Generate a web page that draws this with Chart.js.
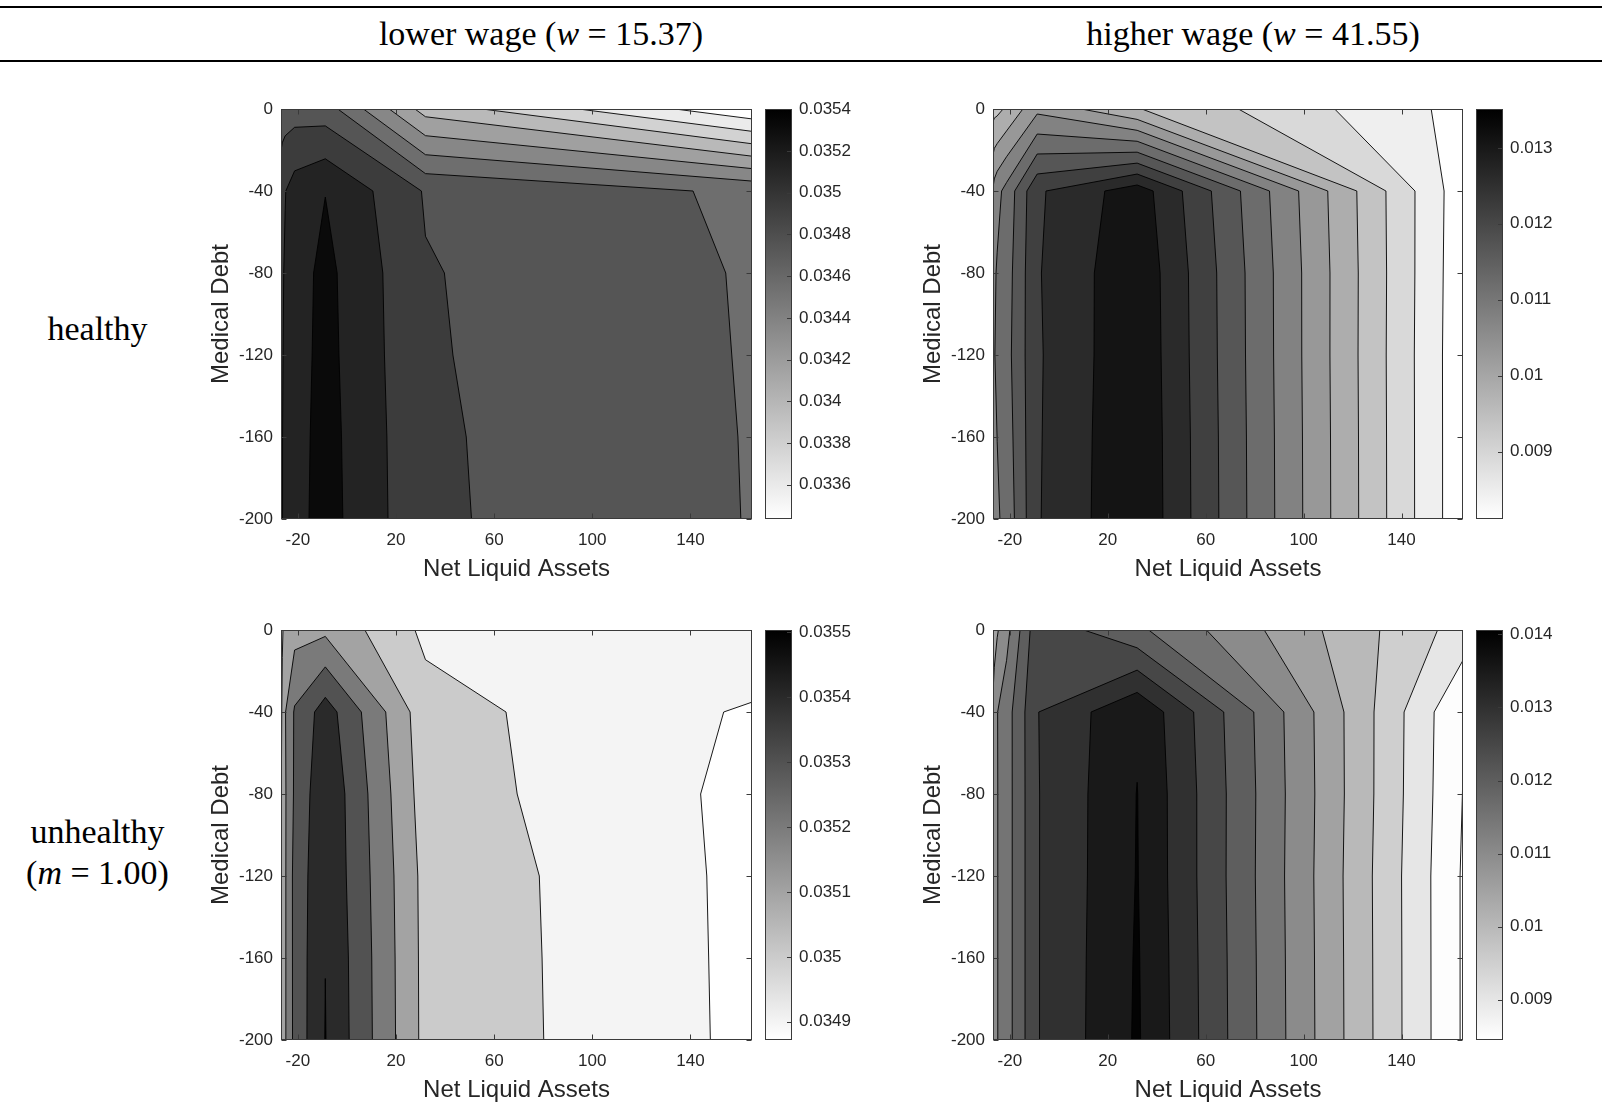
<!DOCTYPE html>
<html><head><meta charset="utf-8">
<script src="https://cdn.jsdelivr.net/npm/chart.js@4.4.1/dist/chart.umd.min.js"></script>
<style>
html,body{margin:0;padding:0;background:#fff;width:1602px;height:1106px;overflow:hidden;position:relative;}
.rule{position:absolute;left:0;width:1602px;background:#000;}
.lab{position:absolute;font-family:'Liberation Serif','Times New Roman',serif;font-size:34px;line-height:34px;color:#000;white-space:nowrap;text-align:center;}
canvas{position:absolute;}
</style></head><body>
<div class="rule" style="top:6px;height:2px"></div>
<div class="rule" style="top:60px;height:1.5px"></div>
<div class="lab" style="left:291px;width:500px;top:16.5px">lower wage (<i>w</i> = 15.37)</div>
<div class="lab" style="left:1003px;width:500px;top:16.5px">higher wage (<i>w</i> = 41.55)</div>
<div class="lab" style="left:0px;width:195px;top:311.5px">healthy</div>
<div class="lab" style="left:0px;width:195px;top:814.5px">unhealthy</div>
<div class="lab" style="left:0px;width:195px;top:855.5px">(<i>m</i> = 1.00)</div>
<canvas id="p1" width="700" height="495" style="left:180px;top:90px"></canvas>
<canvas id="p2" width="700" height="495" style="left:892px;top:90px"></canvas>
<canvas id="p3" width="700" height="495" style="left:180px;top:611px"></canvas>
<canvas id="p4" width="700" height="495" style="left:892px;top:611px"></canvas>
<script>
// ---- grid (net liquid assets, medical debt) ----
const assetGrid = [-26.88, -26.36, -25.18, -21.34, -8.82, 32.0, 165.1];
const debtGrid = [0, -40, -80, -120, -160, -200];
const xTickValues = [-20, 20, 60, 100, 140];
const yTickValues = [0, -40, -80, -120, -160, -200];

// ---- healthy, lower wage ----
const zHealthyLow = [
  [0.034821, 0.034833, 0.034850, 0.034860, 0.034842, 0.034089, 0.033435],
  [0.035057, 0.035095, 0.035128, 0.035223, 0.035323, 0.034925, 0.034709],
  [0.035076, 0.035115, 0.035153, 0.035246, 0.035377, 0.034954, 0.034730],
  [0.035086, 0.035124, 0.035163, 0.035250, 0.035385, 0.034960, 0.034734],
  [0.035095, 0.035130, 0.035172, 0.035256, 0.035396, 0.034970, 0.034738],
  [0.035095, 0.035130, 0.035172, 0.035261, 0.035402, 0.034974, 0.034740]
];
const levelsHealthyLow = [0.033589, 0.033782, 0.033975, 0.034168, 0.034361, 0.034555, 0.034748, 0.034941, 0.035134, 0.035327];
const cbTicksHealthyLow = [0.0336, 0.0338, 0.034, 0.0342, 0.0344, 0.0346, 0.0348, 0.035, 0.0352, 0.0354];
const cbLabelsHealthyLow = ['0.0336', '0.0338', '0.034', '0.0342', '0.0344', '0.0346', '0.0348', '0.035', '0.0352', '0.0354'];

// ---- healthy, higher wage ----
const zHealthyHigh = [
  [0.009654, 0.009701, 0.009724, 0.009909, 0.010651, 0.009863, 0.008296],
  [0.010813, 0.010952, 0.011096, 0.011384, 0.012552, 0.013340, 0.008148],
  [0.010999, 0.011161, 0.011277, 0.011486, 0.012584, 0.013461, 0.008125],
  [0.010999, 0.011207, 0.011323, 0.011532, 0.012566, 0.013479, 0.008111],
  [0.010952, 0.011115, 0.011235, 0.011462, 0.012575, 0.013502, 0.008111],
  [0.010906, 0.011045, 0.011166, 0.011388, 0.012584, 0.013512, 0.008111]
];
const levelsHealthyHigh = [0.008449, 0.008913, 0.009376, 0.009840, 0.010303, 0.010767, 0.011231, 0.011694, 0.012158, 0.012621, 0.013085];
const cbTicksHealthyHigh = [0.009, 0.010, 0.011, 0.012, 0.013];
const cbLabelsHealthyHigh = ['0.009', '0.01', '0.011', '0.012', '0.013'];

// ---- unhealthy, lower wage ----
const zUnhealthyLow = [
  [0.035060, 0.035090, 0.035130, 0.035164, 0.035179, 0.034979, 0.034995],
  [0.035070, 0.035120, 0.035195, 0.035311, 0.035448, 0.035037, 0.034887],
  [0.035090, 0.035130, 0.035190, 0.035315, 0.035485, 0.035050, 0.034872],
  [0.035090, 0.035130, 0.035190, 0.035333, 0.035488, 0.035068, 0.034873],
  [0.035090, 0.035130, 0.035190, 0.035332, 0.035499, 0.035070, 0.034874],
  [0.035090, 0.035130, 0.035190, 0.035331, 0.035503, 0.035071, 0.034875]
];
const levelsUnhealthyLow = [0.0349, 0.0350, 0.0351, 0.0352, 0.0353, 0.0354, 0.0355];
const cbTicksUnhealthyLow = [0.0349, 0.0350, 0.0351, 0.0352, 0.0353, 0.0354, 0.0355];
const cbLabelsUnhealthyLow = ['0.0349', '0.035', '0.0351', '0.0352', '0.0353', '0.0354', '0.0355'];

// ---- unhealthy, higher wage ----
const zUnhealthyHigh = [
  [0.010510, 0.010750, 0.010950, 0.011335, 0.012850, 0.012100, 0.009280],
  [0.011150, 0.011300, 0.011485, 0.011780, 0.012985, 0.013940, 0.008520],
  [0.011200, 0.011350, 0.011480, 0.011780, 0.012975, 0.014010, 0.008490],
  [0.011200, 0.011350, 0.011480, 0.011780, 0.012975, 0.014020, 0.008450],
  [0.011200, 0.011350, 0.011480, 0.011780, 0.012975, 0.014045, 0.008450],
  [0.011200, 0.011350, 0.011480, 0.011780, 0.012975, 0.014060, 0.008450]
];
const levelsUnhealthyHigh = [0.0085, 0.0090, 0.0095, 0.0100, 0.0105, 0.0110, 0.0115, 0.0120, 0.0125, 0.0130, 0.0135, 0.0140];
const cbTicksUnhealthyHigh = [0.009, 0.010, 0.011, 0.012, 0.013, 0.014];
const cbLabelsUnhealthyHigh = ['0.009', '0.01', '0.011', '0.012', '0.013', '0.014'];

const panels = {
  p1: {z: zHealthyLow, levels: levelsHealthyLow, cbTicks: cbTicksHealthyLow, cbLabels: cbLabelsHealthyLow},
  p2: {z: zHealthyHigh, levels: levelsHealthyHigh, cbTicks: cbTicksHealthyHigh, cbLabels: cbLabelsHealthyHigh},
  p3: {z: zUnhealthyLow, levels: levelsUnhealthyLow, cbTicks: cbTicksUnhealthyLow, cbLabels: cbLabelsUnhealthyLow},
  p4: {z: zUnhealthyHigh, levels: levelsUnhealthyHigh, cbTicks: cbTicksUnhealthyHigh, cbLabels: cbLabelsUnhealthyHigh}
};

const AXIS_COLOR = '#3a3a3a';
const TEXT_COLOR = '#262626';
const SANS = "'Liberation Sans', Arial, Helvetica, sans-serif";

function zRange(z) {
  let lo = Infinity, hi = -Infinity;
  z.forEach(r => r.forEach(v => { if (v < lo) lo = v; if (v > hi) hi = v; }));
  return [lo, hi];
}
function grayOf(v, lo, hi) {
  let g = 1 - (v - lo) / (hi - lo);
  g = Math.max(0, Math.min(1, g));
  const c = Math.round(g * 255);
  return 'rgb(' + c + ',' + c + ',' + c + ')';
}
function lerpPt(a, b, L) {
  const t = (L - a.z) / (b.z - a.z);
  return {x: a.x + t * (b.x - a.x), y: a.y + t * (b.y - a.y), z: L};
}
function clipAbove(poly, L) {
  const out = [];
  const n = poly.length;
  for (let i = 0; i < n; i++) {
    const a = poly[(i + n - 1) % n], b = poly[i];
    const ain = a.z >= L, bin = b.z >= L;
    if (bin) { if (!ain) out.push(lerpPt(a, b, L)); out.push(b); }
    else if (ain) out.push(lerpPt(a, b, L));
  }
  return out;
}
function cellsOf(chart) {
  const ds = chart.data.datasets[0].data;
  const nx = assetGrid.length, ny = debtGrid.length;
  const node = (i, j) => ds[j * nx + i];
  const cells = [];
  for (let j = 0; j < ny - 1; j++)
    for (let i = 0; i < nx - 1; i++)
      cells.push([node(i, j), node(i + 1, j), node(i + 1, j + 1), node(i, j + 1)]);
  return cells;
}
function noPad(s) { s.paddingTop = 0; s.paddingBottom = 0; s.paddingLeft = 0; s.paddingRight = 0; }

const contourPlugin = {
  id: 'contourfill',
  beforeDatasetsDraw(chart) {
    const P = panels[chart.canvas.id];
    const [lo, hi] = zRange(P.z);
    const xs = chart.scales.x, ys = chart.scales.y;
    const ctx = chart.ctx, a = chart.chartArea;
    const px = p => xs.getPixelForValue(p.x), py = p => ys.getPixelForValue(p.y);
    const cells = cellsOf(chart);
    ctx.save();
    ctx.beginPath(); ctx.rect(a.left, a.top, a.right - a.left, a.bottom - a.top); ctx.clip();
    ctx.fillStyle = grayOf(lo, lo, hi);
    ctx.fillRect(a.left, a.top, a.right - a.left, a.bottom - a.top);
    P.levels.forEach(L => {
      ctx.beginPath();
      cells.forEach(q => {
        const poly = clipAbove(q, L);
        if (poly.length < 3) return;
        ctx.moveTo(px(poly[0]), py(poly[0]));
        for (let k = 1; k < poly.length; k++) ctx.lineTo(px(poly[k]), py(poly[k]));
        ctx.closePath();
      });
      ctx.fillStyle = grayOf(L, lo, hi);
      ctx.fill('nonzero');
    });
    ctx.strokeStyle = 'rgba(0,0,0,0.9)';
    ctx.lineWidth = 1;
    ctx.lineJoin = 'round';
    const edges = [[0, 1], [1, 2], [2, 3], [3, 0]];
    P.levels.forEach(L => {
      ctx.beginPath();
      cells.forEach(q => {
        const pts = [];
        edges.forEach(([i, k]) => {
          const A = q[i], B = q[k];
          if ((A.z - L) * (B.z - L) < 0) pts.push(lerpPt(A, B, L));
        });
        const seg = (p, r) => { ctx.moveTo(px(p), py(p)); ctx.lineTo(px(r), py(r)); };
        if (pts.length === 2) seg(pts[0], pts[1]);
        else if (pts.length === 4) {
          const c = (q[0].z + q[1].z + q[2].z + q[3].z) / 4;
          if ((c >= L) === (q[0].z >= L)) { seg(pts[0], pts[1]); seg(pts[2], pts[3]); }
          else { seg(pts[3], pts[0]); seg(pts[1], pts[2]); }
        }
      });
      ctx.stroke();
    });
    ctx.restore();
  },
  afterDatasetsDraw(chart) {
    const P = panels[chart.canvas.id];
    const xs = chart.scales.x, ys = chart.scales.y, cb = chart.scales.cb;
    const ctx = chart.ctx, a = chart.chartArea;
    const L = Math.round(a.left) + 0.5, R = Math.round(a.right) - 0.5;
    const T = Math.round(a.top) + 0.5, B = Math.round(a.bottom) - 0.5;
    ctx.save();
    ctx.strokeStyle = AXIS_COLOR; ctx.lineWidth = 1;
    ctx.strokeRect(L, T, R - L, B - T);
    ctx.beginPath();
    xTickValues.forEach(v => {
      const x = Math.round(xs.getPixelForValue(v)) + 0.5;
      ctx.moveTo(x, B); ctx.lineTo(x, B - 5);
      ctx.moveTo(x, T); ctx.lineTo(x, T + 5);
    });
    yTickValues.forEach(v => {
      const y = Math.round(ys.getPixelForValue(v)) + 0.5;
      ctx.moveTo(L, y); ctx.lineTo(L + 5, y);
      ctx.moveTo(R, y); ctx.lineTo(R - 5, y);
    });
    ctx.stroke();
    const cx0 = Math.round(a.right) + 13, cw = 27;
    const top = cb.getPixelForValue(cb.max), bot = cb.getPixelForValue(cb.min);
    const g = ctx.createLinearGradient(0, top, 0, bot);
    g.addColorStop(0, '#000'); g.addColorStop(1, '#fff');
    ctx.fillStyle = g;
    ctx.fillRect(cx0, top, cw, bot - top);
    ctx.strokeRect(cx0 + 0.5, Math.round(top) + 0.5, cw - 1, Math.round(bot - top) - 1);
    ctx.beginPath();
    P.cbTicks.forEach(v => {
      const y = Math.round(cb.getPixelForValue(v)) + 0.5;
      ctx.moveTo(cx0 + cw - 1, y); ctx.lineTo(cx0 + cw - 5, y);
    });
    ctx.stroke();
    ctx.restore();
  }
};

function makeChart(id) {
  const P = panels[id];
  const [lo, hi] = zRange(P.z);
  const points = [];
  debtGrid.forEach((yv, j) => assetGrid.forEach((xv, i) => points.push({x: xv, y: yv, z: P.z[j][i]})));
  const tickFont = {family: SANS, size: 17};
  const titleFont = {family: SANS, size: 24};
  return new Chart(document.getElementById(id), {
    type: 'scatter',
    data: {datasets: [{data: points, pointRadius: 0, pointHoverRadius: 0, showLine: false}]},
    options: {
      responsive: false, animation: false, events: [],
      layout: {autoPadding: false, padding: {top: 19, left: 0, right: 0, bottom: 0}},
      plugins: {legend: {display: false}, tooltip: {enabled: false}},
      scales: {
        x: {
          type: 'linear', position: 'bottom',
          min: Math.min(...assetGrid), max: Math.max(...assetGrid),
          afterBuildTicks: s => { s.ticks = xTickValues.map(v => ({value: v})); },
          afterFit: s => { s.height = 66; noPad(s); },
          grid: {display: false, drawTicks: false}, border: {display: false},
          ticks: {font: tickFont, color: TEXT_COLOR, padding: 11, maxRotation: 0, autoSkip: false, callback: v => String(v)},
          title: {display: true, text: 'Net Liquid Assets', font: titleFont, color: TEXT_COLOR, padding: {top: 0, bottom: 1}}
        },
        y: {
          type: 'linear', position: 'left',
          min: Math.min(...debtGrid), max: Math.max(...debtGrid),
          afterBuildTicks: s => { s.ticks = yTickValues.map(v => ({value: v})); },
          afterFit: s => { s.width = 101; noPad(s); },
          grid: {display: false, drawTicks: false}, border: {display: false},
          ticks: {font: tickFont, color: TEXT_COLOR, padding: 8, autoSkip: false, callback: v => String(v)},
          title: {display: true, text: 'Medical Debt', font: titleFont, color: TEXT_COLOR, padding: {top: 27, bottom: 0}}
        },
        cb: {
          type: 'linear', position: 'right', min: lo, max: hi,
          afterBuildTicks: s => { s.ticks = P.cbTicks.map(v => ({value: v})); },
          afterFit: s => { s.width = (id === 'p1' || id === 'p3') ? 128 : 129; noPad(s); },
          grid: {display: false, drawTicks: false}, border: {display: false},
          ticks: {font: tickFont, color: TEXT_COLOR, padding: 47, autoSkip: false, callback: (v, i) => P.cbLabels[i]}
        }
      }
    },
    plugins: [contourPlugin]
  });
}
['p1', 'p2', 'p3', 'p4'].forEach(makeChart);
</script>
</body></html>
